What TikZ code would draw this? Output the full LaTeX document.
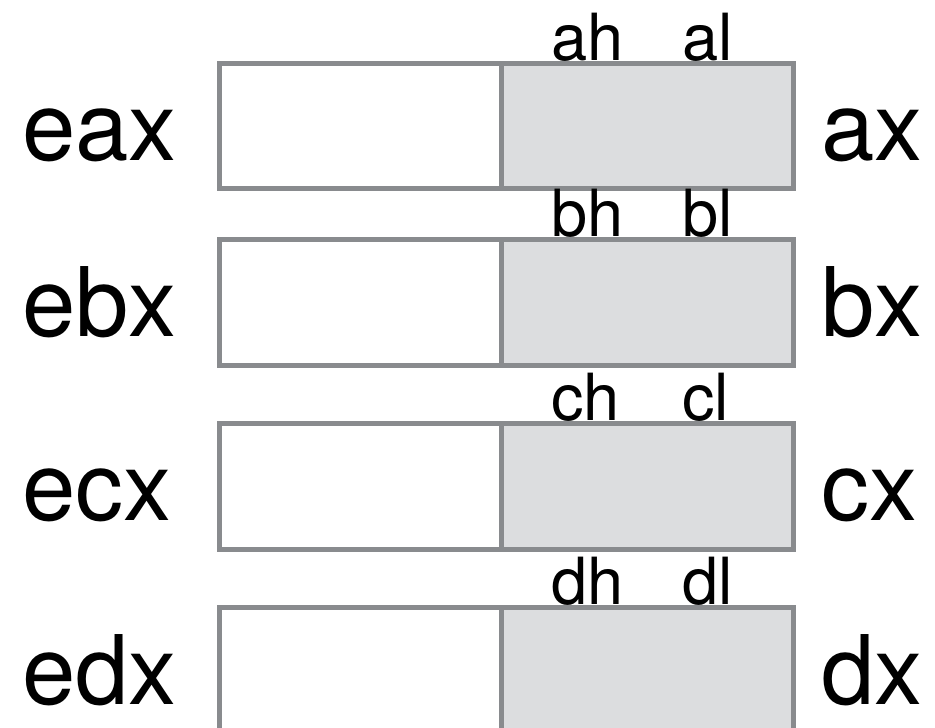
\documentclass[tikz,border=0pt]{standalone}
\usepackage{fontspec}
\setmainfont{TeX Gyre Heros}
\definecolor{frame}{HTML}{898B8E}
\definecolor{lowfill}{HTML}{DCDDDF}
\begin{document}
\begin{tikzpicture}[x=1pt,y=-1pt,
  half/.style={draw=frame, line width=5pt, inner sep=0pt, outer sep=0pt,
    minimum height=125.5pt, anchor=north west},
  hibyte/.style={half, fill=white, minimum width=282pt},
  lobyte/.style={half, fill=lowfill, minimum width=292pt},
  regname/.style={font=\fontsize{96}{96}\selectfont, inner sep=0pt, anchor=base west},
  subname/.style={font=\fontsize{65}{65}\selectfont, inner sep=0pt, anchor=base west}]
\clip (0,0) rectangle (935,728);
% one register per row: 32-bit name, 16-bit name, and the two byte halves
\foreach \r/\top in {a/63, b/239.7, c/423.5, d/607} {
  \node[hibyte] (\r-high) at (219,\top) {};
  \node[lobyte] (\r-low) at (501,\top) {};
  \node[regname] (e\r x) at (22,\top+97) {e\r x};
  \node[regname] (\r x) at (821,\top+97) {\r x};
  \node[subname] (\r h) at (551,\top-3) {\r h};
  \node[subname] (\r l) at (682,\top-3) {\r l};
}
\end{tikzpicture}
\end{document}
